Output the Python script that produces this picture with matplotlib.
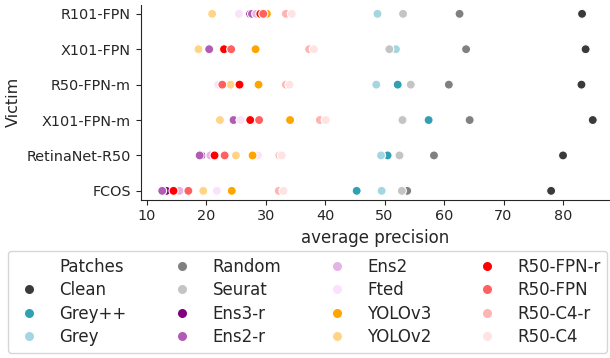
import matplotlib
matplotlib.use("Agg")
import matplotlib.pyplot as plt
from matplotlib.lines import Line2D
import seaborn as sns
import pandas as pd

victims = ["R101-FPN", "X101-FPN", "R50-FPN-m", "X101-FPN-m", "RetinaNet-R50", "FCOS"]
patches = ["Clean", "Grey++", "Grey", "Random", "Seurat", "Ens3-r", "Ens2-r", "Ens2",
           "Fted", "YOLOv3", "YOLOv2", "R50-FPN-r", "R50-FPN", "R50-C4-r", "R50-C4"]
colors = ["#3a3a3a", "#31a0b2", "#a3d6e0", "#808080", "#c4c4c4", "#800080", "#b05cb4",
          "#e4b4e4", "#fbe2fb", "#ffa500", "#ffd486", "#ff0000", "#ff6060", "#ffb4b4", "#ffe2e2"]

# average precision per patch, one list per victim (same order as patches)
ap_r101 = [83.2, 48.8, 48.8, 62.6, 53.1, 27.4, 27.7, 28.4, 25.5, 30.2, 21.0, 29.1, 29.6, 33.4, 34.4]
ap_x101 = [83.8, 51.9, 51.9, 63.7, 50.8, 20.5, 20.5, 23.0, 18.7, 28.3, 18.7, 23.0, 24.2, 37.3, 38.1]
ap_r50m = [83.1, 52.2, 48.6, 60.8, 54.4, 22.3, 22.4, 22.2, 22.0, 28.8, 24.1, 25.6, 22.7, 33.4, 34.0]
ap_x101m = [85.0, 57.4, 53.0, 64.3, 53.0, 24.6, 24.6, 25.8, 25.8, 34.1, 22.3, 27.4, 28.9, 39.1, 40.1]
ap_retina = [80.0, 50.5, 49.4, 58.3, 52.5, 19.2, 18.9, 20.7, 28.7, 27.8, 25.0, 21.4, 23.1, 32.3, 32.7]
ap_fcos = [78.0, 45.3, 49.5, 53.8, 52.9, 13.3, 12.6, 15.5, 21.8, 24.3, 19.5, 14.5, 17.0, 32.2, 33.0]

all_ap = [ap_r101, ap_x101, ap_r50m, ap_x101m, ap_retina, ap_fcos]

rows = []
for j, p in enumerate(patches):
    for v, ap in zip(victims, all_ap):
        rows.append({"Victim": v, "Patches": p, "average precision": ap[j]})
df = pd.DataFrame(rows)

sns.set_style("ticks")
plt.rcParams["font.family"] = ["DejaVu Sans"]

fig = plt.figure(figsize=(6.1, 3.58), dpi=100)
ax = fig.add_axes([0.2307, 0.4422, 0.7693, 0.5439])

sns.scatterplot(data=df, x="average precision", y="Victim", hue="Patches",
                hue_order=patches, palette=colors, s=42, linewidth=0.8,
                edgecolor="white", ax=ax, legend=False)

ax.set_yticks(range(len(victims)))
ax.set_yticklabels(victims)
ax.set_ylim(5.25, -0.25)
ax.set_xlim(8.99, 87.9)
ax.set_xticks([10, 20, 30, 40, 50, 60, 70, 80])
ax.tick_params(labelsize=10.4)
ax.set_xlabel("average precision", fontsize=12)
ax.set_ylabel("Victim", fontsize=11.5)
sns.despine(ax=ax)

handles = [Line2D([], [], linestyle="none")]
labels = ["Patches"]
for p, c in zip(patches, colors):
    handles.append(Line2D([], [], marker="o", linestyle="none", markersize=7.5,
                          markerfacecolor=c, markeredgecolor="white"))
    labels.append(p)

fig.legend(handles, labels, ncol=4, loc="upper center",
           bbox_to_anchor=(0.504, 0.299), fontsize=12, frameon=True,
           labelspacing=0.33, columnspacing=2.45, handletextpad=0.9,
           handlelength=1.8, borderpad=0.4, borderaxespad=0)

fig.savefig("out.png", dpi=100)
